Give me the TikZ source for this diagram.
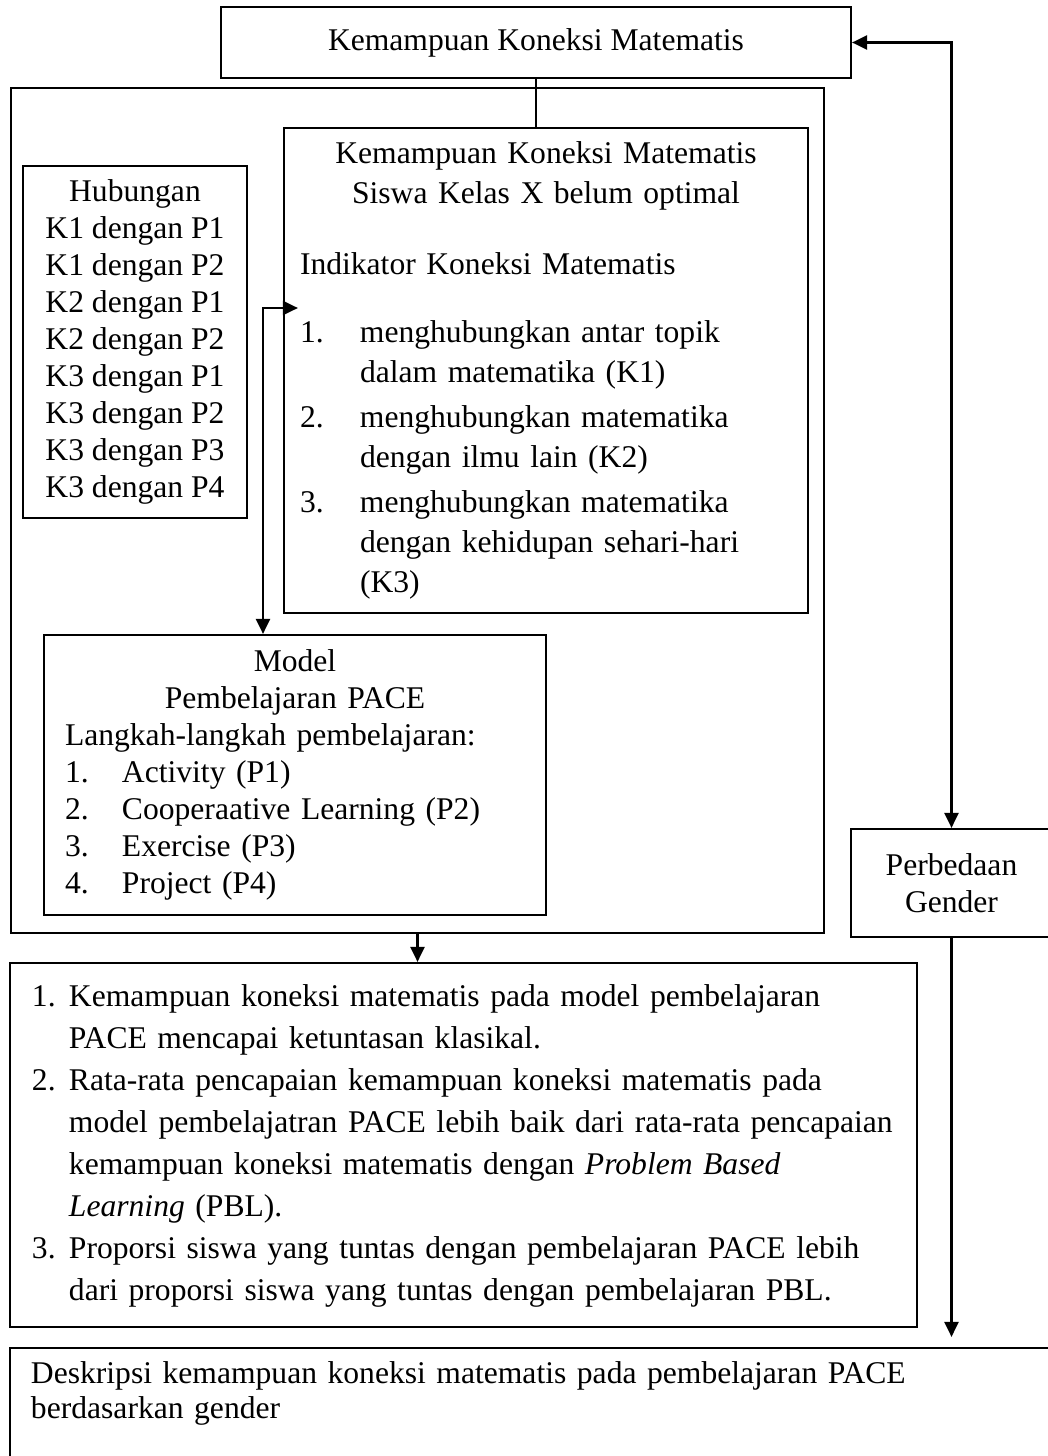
\documentclass[tikz,border=0pt]{standalone}
\usepackage{fontspec}
\setmainfont{Liberation Serif}
\usetikzlibrary{arrows.meta}
\setlength{\parindent}{0pt}
\newcommand{\butir}[3]{\par\hangindent=#1\hangafter=1\makebox[#1][l]{#2}#3\par}

\begin{document}
\begin{tikzpicture}[x=0.5pt,y=-0.5pt,line width=1.1pt,>={Triangle[length=7.5pt,width=7pt]},
	font=\fontsize{15.8}{18.5}\selectfont,
	box node/.style={rectangle,draw,inner sep=0pt}]

	\useasboundingbox (0,0) rectangle (1048,1456);
	\clip (0,0) rectangle (1048,1456);

	\node[box node,minimum width=315pt,minimum height=35.5pt] (1) at (536,42.5) {Kemampuan Koneksi Matematis};
	\node[box node,minimum width=406.5pt,minimum height=422.5pt] (2) at (417.5,510.5) {};
	\node[box node,minimum width=112pt,minimum height=176pt,align=center] (3) at (135,342)
		{Hubungan\\ K1 dengan P1\\ K1 dengan P2\\ K2 dengan P1\\ K2 dengan P2\\ K3 dengan P1\\ K3 dengan P2\\ K3 dengan P3\\ K3 dengan P4};
	\node[box node,minimum width=262pt,minimum height=242.5pt,text width=246pt,inner xsep=8pt,
		font=\fontsize{15.8}{20}\selectfont] (4) at (546,370.5) {%
		{\centering Kemampuan Koneksi Matematis\\ Siswa Kelas X belum optimal\par}
		\raggedright\vspace{15.5pt}
		Indikator Koneksi Matematis\par
		\vspace{14pt}
		\butir{30pt}{1.}{menghubungkan antar topik\newline dalam matematika (K1)}
		\vspace{2.5pt}
		\butir{30pt}{2.}{menghubungkan matematika\newline dengan ilmu lain (K2)}
		\vspace{2.5pt}
		\butir{30pt}{3.}{menghubungkan matematika\newline dengan kehidupan sehari-hari\newline (K3)}};
	\node[box node,minimum width=251pt,minimum height=140pt,text width=230pt,inner xsep=10.5pt] (5) at (295,775) {%
		{\centering Model\\ Pembelajaran PACE\par}
		\raggedright Langkah-langkah pembelajaran:\par
		\butir{28.5pt}{1.}{Activity (P1)}
		\butir{28.5pt}{2.}{Cooperaative Learning (P2)}
		\butir{28.5pt}{3.}{Exercise (P3)}
		\butir{28.5pt}{4.}{Project (P4)}};
	\node[box node,minimum width=100.5pt,minimum height=54pt,align=center] (6) at (951.5,883) {Perbedaan\\ Gender};
	\node[box node,minimum width=453.5pt,minimum height=182pt,text width=431.5pt,inner xsep=11pt,
		font=\fontsize{15.8}{21}\selectfont] (7) at (463.5,1145) {%
		\raggedright
		\butir{18.5pt}{1.}{Kemampuan koneksi matematis pada model pembelajaran\newline PACE mencapai ketuntasan klasikal.}
		\butir{18.5pt}{2.}{Rata-rata pencapaian kemampuan koneksi matematis pada\newline model pembelajatran PACE lebih baik dari rata-rata pencapaian\newline kemampuan koneksi matematis dengan \textit{Problem Based}\newline \textit{Learning} (PBL).}
		\butir{18.5pt}{3.}{Proporsi siswa yang tuntas dengan pembelajaran PACE lebih\newline dari proporsi siswa yang tuntas dengan pembelajaran PBL.}
		\vspace{9pt}\hrule height 0pt depth 0pt\relax};
	\node[box node,minimum width=525pt,minimum height=65pt,text width=504pt,inner xsep=10.5pt,align=left,
		font=\fontsize{15.8}{17.5}\selectfont] (8) at (535,1413)
		{Deskripsi kemampuan koneksi matematis pada pembelajaran PACE\\ berdasarkan gender\\ \strut};

	\draw[<->] (1.east) -| (6.north);
	\draw (1.south) -- (1.south |- 4.north);
	\draw[<->,shorten <=-7.5pt] (4.west |- 0,308) -| (5.north -| 263,0);
	\draw[->] (2.south) -- (2.south |- 7.north);
	\draw[->,shorten >=5pt] (6.south) -- (6.south |- 8.north);
\end{tikzpicture}
\end{document}
